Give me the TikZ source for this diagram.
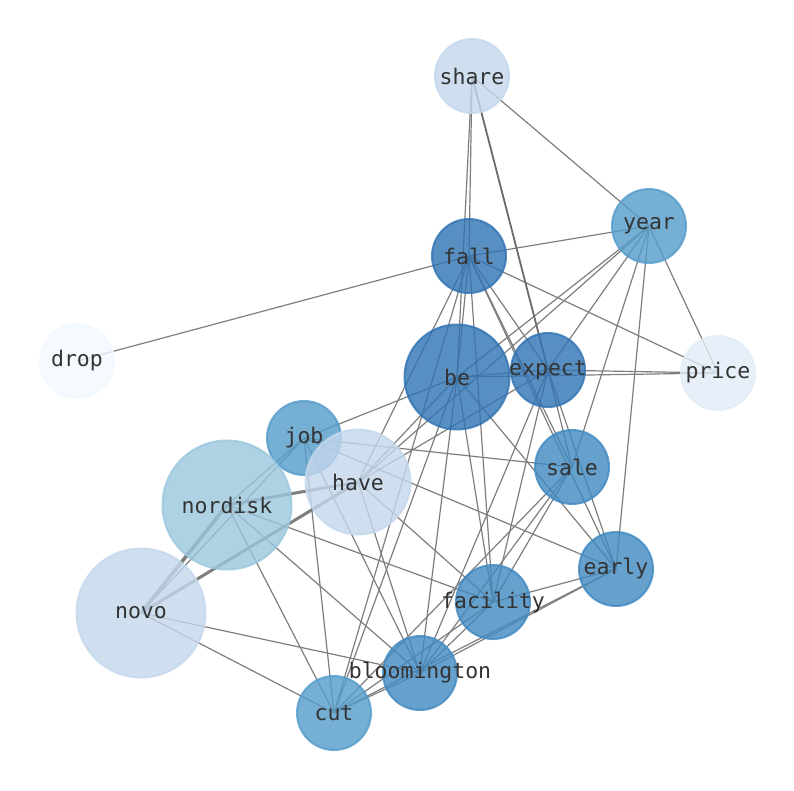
\documentclass[tikz,border=0pt]{standalone}
\usepackage{fontspec}
\setmonofont{DejaVu Sans Mono}
\pgfdeclarelayer{background}
\pgfsetlayers{background,main}
\definecolor{cA}{RGB}{47,115,179}
\definecolor{cB}{RGB}{64,137,193}
\definecolor{cC}{RGB}{84,156,202}
\definecolor{cD}{RGB}{154,199,221}
\definecolor{cE}{RGB}{196,216,236}
\definecolor{cF}{RGB}{226,236,247}
\definecolor{cG}{RGB}{242,249,255}
\definecolor{labelc}{RGB}{51,51,51}
\definecolor{edgec}{RGB}{126,126,126}
\tikzset{
  lab/.style={inner sep=0pt, opacity=1, text opacity=1, text=labelc,
    font=\ttfamily\fontsize{21.5}{24}\selectfont},
  wnode/.style={circle, inner sep=0pt, line width=2pt, fill=#1, draw=#1,
    fill opacity=0.8, draw opacity=0.8},
  sm/.style={wnode=#1, minimum size=74pt},
  md/.style={wnode=#1, minimum size=105pt},
  lg/.style={wnode=#1, minimum size=129pt},
  lnk/.style={draw=edgec, line width=1.2pt},
  lnkb/.style={draw=edgec!85!black, line width=1.8pt},
  lnkh/.style={draw=edgec, line width=3pt},
}
\begin{document}
\begin{tikzpicture}[x=1pt,y=-1pt]
\useasboundingbox (0,0) rectangle (794,790);
% nodes
\node[sm=cE, label={[lab]center:share}] (share) at (472,76) {};
\node[sm=cC, label={[lab]center:year}] (year) at (649,226) {};
\node[sm=cA, label={[lab]center:fall}] (fall) at (469,256) {};
\node[sm=cG, label={[lab]center:drop}] (drop) at (77,361) {};
\node[md=cA, label={[lab]center:be}] (be) at (457,377) {};
\node[sm=cA, label={[lab]center:expect}] (expect) at (548,370) {};
\node[sm=cF, label={[lab]center:price}] (price) at (718,373) {};
\node[sm=cC, label={[lab]center:job}] (job) at (304,438) {};
\node[md=cE, label={[lab]center:have}] (have) at (358,482) {};
\node[sm=cB, label={[lab]center:sale}] (sale) at (572,467) {};
\node[lg=cD, label={[lab]center:nordisk}] (nordisk) at (227,505) {};
\node[sm=cB, label={[lab]center:early}] (early) at (616,569) {};
\node[sm=cB, label={[lab]center:facility}] (facility) at (493,602) {};
\node[lg=cE, label={[lab]center:novo}] (novo) at (141,613) {};
\node[sm=cB, label={[lab]center:bloomington}] (bloomington) at (420,673) {};
\node[sm=cC, label={[lab]center:cut}] (cut) at (334,713) {};
% edges
\begin{pgfonlayer}{background}
\fill[white] (0,0) rectangle (794,790);
\foreach \a/\b in {drop/fall, share/fall, share/be, share/year,
  fall/year, fall/price, fall/be, fall/expect, fall/sale, fall/early,
  fall/facility, fall/have, fall/cut,
  year/be, year/have, year/expect, year/sale, year/early, year/price,
  be/price, be/expect, be/job, be/have, be/early, be/facility,
  be/bloomington, be/cut,
  expect/price, expect/early, expect/sale, expect/facility,
  expect/bloomington, expect/have,
  job/sale, job/early, job/nordisk, job/novo, job/cut, job/bloomington,
  have/facility, have/bloomington,
  nordisk/facility, nordisk/bloomington, nordisk/cut,
  novo/bloomington, novo/cut,
  sale/facility, sale/bloomington, sale/cut,
  early/facility, early/bloomington, early/cut,
  facility/bloomington, facility/cut, bloomington/cut}
  {\draw[lnk] (\a.center) -- (\b.center);}
\draw[lnkb] (share.center) -- (expect.center);
\draw[lnkh] (have.center) -- (nordisk.center);
\draw[lnkh] (have.center) -- (novo.center);
\draw[lnkh, line width=3.6pt] (nordisk.center) -- (novo.center);
\end{pgfonlayer}
\end{tikzpicture}
\end{document}
